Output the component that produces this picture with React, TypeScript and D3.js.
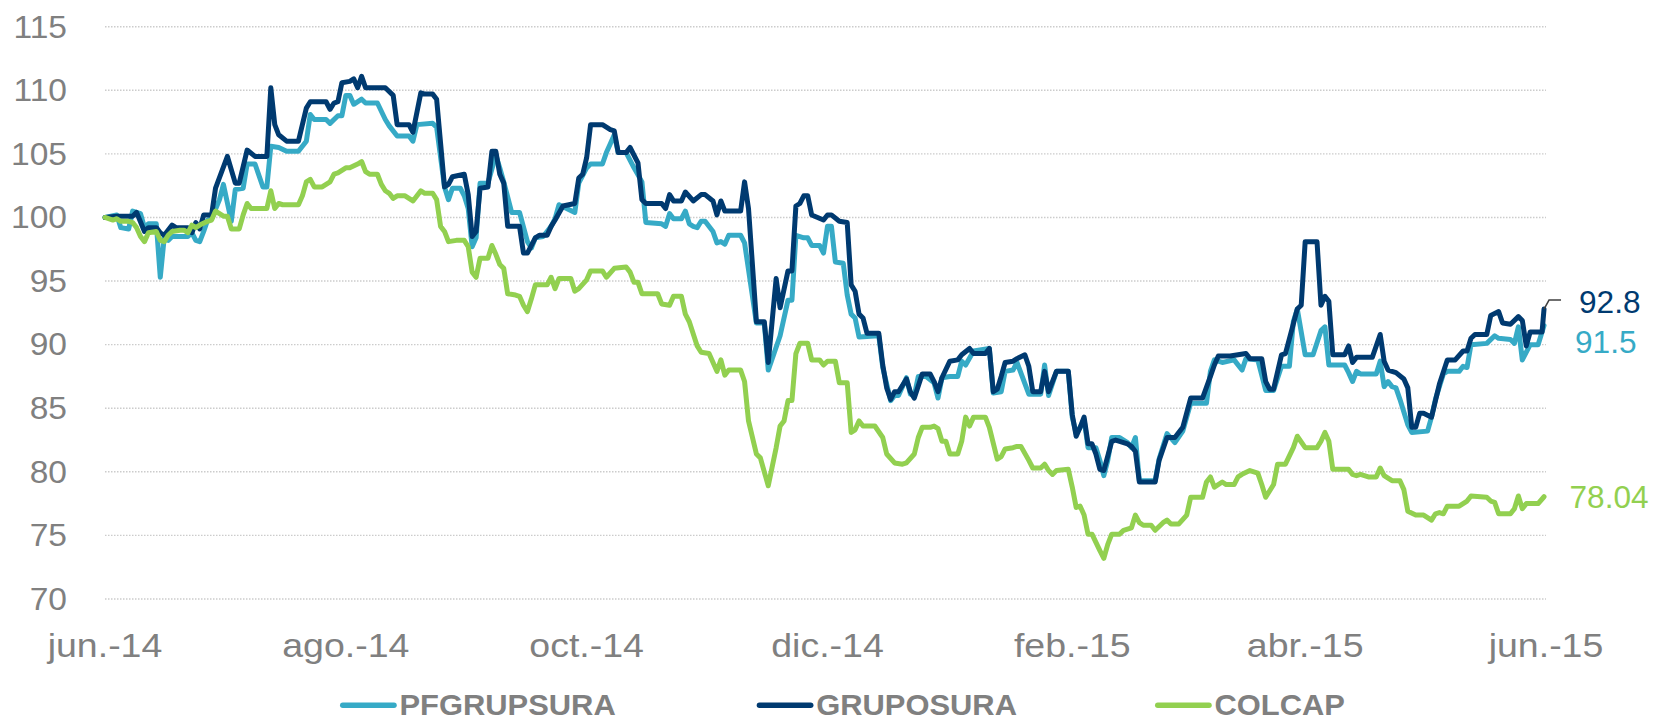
import React from "react";
import * as d3 from "d3";

// ---------- DATA ----------
// day offsets from 2014-06-01, index value (base 100)
const startDate = new Date(2014, 5, 1);

const seriesNames = ["PFGRUPSURA", "GRUPOSURA", "COLCAP"];

const pfGrupSura: [number, number][] = [
  [0,100],[3,100.2],[4,99.2],[6,99.1],[7,100.5],[9,100.3],[10,99.2],[11,99.5],[13,99.5],[14,95.3],[15,98.4],[16,98.2],[17,98.5],[21,98.5],[22,98.8],[23,98.2],[24,98.1],[25,98.9],[26,99.8],[27,99.9],[29,101.4],[30,102.6],[32,99.7],[33,102.2],[35,102.3],[36,104.2],[38,104.2],[40,102.4],[41,102.4],[42,105.6],[44,105.5],[46,105.2],[49,105.2],[51,106],[52,108.1],[53,107.7],[56,107.7],[57,107.4],[59,108],[60,108],[61,109.6],[62,109.6],[63,108.9],[65,109.3],[66,109],[69,109],[71,107.7],[72,107.2],[74,106.4],[77,106.4],[78,106],[79,107.3],[83,107.4],[84,107.1],[86,102.4],[87,101.4],[88,102.3],[90,102.3],[91,101.7],[92,100.7],[93,97.7],[94,98.4],[95,102.7],[97,102.7],[99,104.9],[100,103.9],[101,102.8],[103,100.4],[105,100.4],[107,98.1],[108,97.6],[109,98.4],[111,98.5],[113,99.3],[114,99.9],[115,101],[119,100.4],[120,102.7],[122,103.9],[123,104.2],[126,104.2],[127,105.1],[128,105.8],[129,106.5],[130,105.1],[132,105.1],[134,103.9],[136,102.8],[137,99.6],[141,99.5],[142,99.3],[143,100.3],[144,99.9],[146,99.9],[147,100.5],[148,99.5],[149,99.3],[150,99.2],[151,99.7],[152,99.7],[154,98.9],[155,98],[156,98.1],[157,97.9],[158,98.6],[161,98.6],[162,98],[165,91.7],[167,91.7],[168,88],[171,90.7],[173,93.5],[174,93.5],[175,98.6],[177,98.4],[178,98.4],[179,97.8],[181,97.8],[182,97.2],[183,99.3],[184,99.3],[185,96.5],[187,96.4],[188,93.9],[189,92.4],[190,92.1],[191,90.6],[196,90.7],[197,88.2],[199,85.6],[200,86],[201,86],[203,87.4],[204,86.1],[205,86],[206,87.5],[208,87.5],[210,87],[211,85.8],[212,87.4],[214,87.5],[216,87.5],[217,88.7],[218,88.4],[220,89.5],[224,89.7],[225,86.2],[227,86.3],[228,87.9],[230,88],[231,88.6],[234,86.1],[237,86.1],[238,88.4],[239,86],[241,87.9],[244,87.9],[245,84.3],[246,83],[247,83.5],[248,84.1],[249,81.9],[251,81.9],[252,80.9],[253,79.7],[254,80.9],[255,82.7],[257,82.7],[259,82.3],[260,81.9],[261,82.7],[262,79.3],[266,79.3],[267,81],[269,83],[271,82.3],[273,83.2],[275,85.4],[279,85.4],[280,87.9],[281,88.8],[283,88.6],[286,88.8],[288,88],[289,88.9],[292,88.8],[294,86.4],[296,86.4],[298,88.3],[300,88.3],[301,91.8],[302,92.8],[304,89.2],[306,89.2],[308,91.1],[309,91.4],[310,88.4],[314,88.4],[315,87.8],[316,87.1],[317,87.9],[318,87.7],[322,87.7],[323,88.7],[324,86.7],[325,87.1],[326,86.7],[327,86.6],[328,85.7],[330,83.7],[331,83.1],[335,83.2],[336,84.3],[337,85.7],[339,87.7],[340,87.9],[343,87.9],[344,88.3],[345,88.2],[346,90],[350,90.1],[352,90.7],[353,90.5],[356,90.4],[357,90.1],[358,91.4],[359,88.8],[361,90],[363,90],[364.5,91.5]
];

const grupoSura: [number, number][] = [
  [0,100],[3,100.1],[7,100.1],[8,100.4],[10,98.9],[11,99.2],[13,99.2],[14,98.8],[15,98.6],[17,99.4],[18,99.2],[21,99.2],[22,98.8],[23,99.6],[24,99.1],[25,100.2],[27,100.2],[28,102.3],[31,104.8],[33,102.7],[34,102.7],[36,105.3],[38,104.8],[41,104.8],[42,110.2],[43,107.3],[44,106.5],[46,106],[49,106],[51,108.6],[52,109.1],[56,109.1],[57,108.5],[58,109],[59,109.1],[60,110.6],[62,110.7],[63,110.9],[64,110.2],[65,111.1],[66,110.2],[71,110.2],[73,109.6],[74,107.3],[77,107.3],[78,106.7],[80,109.8],[81,109.7],[83,109.7],[84,109.3],[86,102.4],[87,102.6],[88,103.2],[91,103.4],[92,101.8],[93,98.5],[94,98.9],[95,102.3],[97,102.4],[98,105.2],[99,105.2],[100,103.4],[101,102.7],[102,99.3],[105,99.3],[106,97.2],[107,97.2],[109,98.4],[110,98.6],[112,98.6],[113,99.3],[114,99.8],[116,100.9],[119,101.1],[120,103.1],[121,103.4],[122,104.7],[123,107.3],[126,107.3],[128,106.9],[129,106.8],[130,105.1],[132,105.1],[133,105.5],[135,104.3],[136,101.4],[137,101.1],[141,101.1],[142,100.7],[143,101.8],[144,101.3],[146,101.3],[147,102],[149,101.3],[151,101.8],[152,101.8],[154,101.3],[155,100.2],[156,101.3],[157,100.5],[161,100.5],[162,102.8],[163,100.7],[165,91.8],[167,91.8],[168,88.6],[170,95.2],[171,92.9],[173,95.8],[174,95.8],[175,100.9],[176,101.1],[177,101.7],[178,101.7],[179,100.2],[182,99.8],[183,100.2],[184,100.2],[186,99.7],[188,99.6],[189,94.7],[190,94.2],[191,92.4],[192,92.1],[193,90.9],[196,90.9],[197,88.4],[198,86.6],[199,85.7],[200,86.3],[201,86.3],[203,87.3],[204,86.3],[205,85.8],[207,87.7],[209,87.7],[210,87.1],[211,86.3],[212,87.4],[214,88.7],[216,88.8],[217,89.2],[219,89.7],[220,89.3],[223,89.3],[224,89.7],[225,86.3],[226,86.5],[227,87.5],[228,88.6],[230,88.7],[231,88.9],[233,89.2],[234,88.3],[235,86.3],[237,86.3],[238,87.9],[239,86.3],[241,87.9],[244,87.9],[245,84.5],[246,82.8],[247,83.5],[248,84.3],[249,82.2],[250,82.2],[251,81.4],[252,80.2],[253,80.1],[255,82.4],[256,82.5],[259,82.2],[260,82],[261,81.6],[262,79.2],[266,79.2],[267,80.9],[269,82.7],[271,82.7],[273,83.5],[275,85.8],[278,85.8],[280,87.5],[281,88.4],[282,89.1],[285,89.1],[287,89.2],[289,89.3],[290,88.9],[293,88.9],[294,87.1],[295,86.5],[296,86.5],[298,89.2],[299,89.3],[302,92.8],[303,93.1],[304,98.1],[307,98.1],[308,93.1],[309,93.8],[310,93.4],[311,89.2],[314,89.2],[315,89.9],[316,88.6],[317,89],[321,89],[323,90.8],[324,88.7],[325,88],[327,87.8],[329,87.3],[330,86.6],[331,83.5],[332,83.5],[333,84.6],[334,84.6],[336,84.3],[337,85.6],[338,86.9],[340,88.8],[342,88.8],[344,89.5],[345,89.5],[346,90.5],[347,90.8],[350,90.8],[351,92.3],[353,92.6],[354,91.7],[356,91.6],[358,92.2],[359,91.9],[360,89.9],[361,91],[364,91],[364.5,92.8]
];

const colcap: [number, number][] = [
  [0,100],[2,99.8],[3,99.9],[4,99.7],[6,99.7],[7,99.6],[8,99.2],[9,98.5],[10,98.1],[11,98.8],[13,98.9],[14,98.2],[15,98.1],[16,98.6],[17,98.9],[19,99],[20,99],[21,98.8],[22,99.4],[23,99.2],[24,99.4],[26,99.7],[27,99.8],[28,100.5],[30,100.1],[31,100.1],[32,99.1],[34,99.1],[35,100.2],[36,101.1],[37,100.7],[41,100.7],[42,102.1],[43,100.7],[44,101.1],[45,101],[49,101],[50,101.7],[51,102.8],[52,103],[53,102.4],[55,102.4],[57,102.8],[58,103.4],[59,103.5],[61,103.9],[62,103.9],[64,104.2],[65,104.4],[66,103.6],[67,103.4],[69,103.4],[70,102.6],[71,102.1],[72,101.9],[73,101.5],[74,101.7],[76,101.7],[78,101.3],[80,102.1],[81,101.9],[83,101.9],[84,101.4],[85,99.3],[86,98.9],[87,98.1],[89,98.2],[91,98.2],[92,97.7],[93,95.7],[94,95.3],[95,96.8],[97,96.8],[98,97.8],[99,97.1],[100,96.3],[101,96],[102,94],[104,93.9],[105,93.8],[106,93.1],[107,92.6],[108,93.6],[109,94.7],[112,94.7],[113,95.3],[114,94.4],[115,95.2],[118,95.2],[119,94.2],[120,94.4],[122,95.1],[123,95.8],[126,95.8],[127,95.3],[129,96],[132,96.1],[133,95.7],[134,94.9],[135,94.9],[136,94],[140,94],[141,93.2],[143,93.1],[144,93.8],[146,93.8],[147,92.4],[148,91.8],[150,89.9],[151,89.4],[153,89.3],[155,87.9],[156,88.8],[157,87.6],[158,88],[161,88],[162,87.1],[163,84],[165,81.4],[166,81.1],[168,78.9],[170,81.9],[171,83.6],[172,84],[173,85.6],[174,85.6],[175,89.3],[176,90.1],[178,90.1],[179,88.8],[181,88.8],[182,88.4],[183,88.7],[185,88.7],[186,87],[188,87],[189,83.1],[190,83.3],[191,84],[192,83.6],[195,83.6],[197,82.7],[198,81.4],[200,80.7],[202,80.6],[203,80.7],[205,81.4],[206,82.7],[207,83.5],[209,83.5],[210,83.6],[211,83.4],[212,82.4],[213,82.4],[214,81.4],[216,81.4],[217,82.4],[218,84.3],[219,83.6],[220,84.3],[223,84.3],[224,83.5],[226,81],[227,81.2],[228,81.8],[230,81.9],[231,82],[232,82],[234,80.9],[235,80.3],[237,80.3],[238,80.6],[239,80.1],[240,79.8],[241,80.1],[244,80.2],[245,78.8],[246,77.2],[247,77.3],[248,76.6],[249,75.1],[250,75.1],[252,73.8],[253,73.2],[254,74.3],[255,75.1],[257,75.1],[258,75.4],[260,75.6],[261,76.6],[262,76],[263,75.8],[265,75.8],[266,75.4],[268,76],[269,76.2],[270,75.9],[272,75.9],[274,76.6],[275,78],[278,78],[279,79.2],[280,79.6],[281,78.8],[283,79.2],[284,79],[286,79],[287,79.6],[288,79.8],[290,80.1],[292,79.9],[293,79],[294,78],[296,79],[297,80.6],[299,80.6],[301,81.9],[302,82.8],[304,81.9],[307,81.9],[308,82.4],[309,83.1],[310,82.4],[311,80.2],[315,80.2],[316,79.8],[317,79.7],[318,79.8],[320,79.6],[322,79.6],[323,80.3],[324,79.7],[326,79.3],[328,79.3],[329,78.6],[330,76.9],[332,76.6],[334,76.6],[336,76.2],[337,76.7],[338,76.8],[339,76.7],[340,77.3],[343,77.3],[345,77.7],[346,78.1],[350,78],[351,77.7],[352,77.6],[353,76.7],[356,76.7],[357,77.1],[358,78.1],[359,77.1],[360,77.5],[363,77.5],[364.5,78.04]
];

const yTicks = [70, 75, 80, 85, 90, 95, 100, 105, 110, 115];
const xTickDates = ["2014-06-01", "2014-08-01", "2014-10-01", "2014-12-01", "2015-02-01", "2015-04-01", "2015-06-01"];
const xTickLabels = ["jun.-14", "ago.-14", "oct.-14", "dic.-14", "feb.-15", "abr.-15", "jun.-15"];
const endLabels = ["91.5", "92.8", "78.04"];

// ---------- STYLE ----------
const W = 1653, H = 721;
const COLORS = ["#36AAC6", "#003A70", "#92D050"];
const FONT = "Arial, 'Liberation Sans', sans-serif";
const GRAY = "#808080";

function toDate(d: number) {
  return new Date(startDate.getTime() + d * 86400000);
}

function SText(props: {
  x: number; y: number; sx: number; size: number; fill: string;
  anchor?: string; weight?: string; children: React.ReactNode;
}) {
  return (
    <text
      transform={`translate(${props.x},${props.y}) scale(${props.sx},1)`}
      textAnchor={props.anchor || "start"}
      fontSize={props.size}
      fontWeight={props.weight || "normal"}
      fill={props.fill}
    >
      {props.children}
    </text>
  );
}

export default function App() {
  const x = d3.scaleTime()
    .domain([new Date(2014, 5, 1), new Date(2015, 5, 1)])
    .range([105, 1546]);
  const y = d3.scaleLinear().domain([70, 115]).range([599, 26.7]);

  const line = d3.line<[number, number]>()
    .x((d) => x(toDate(d[0])))
    .y((d) => y(d[1]));

  const series = [pfGrupSura, grupoSura, colcap];

  const ends = series.map((s) => {
    const last = s[s.length - 1];
    return { ex: x(toDate(last[0])), ey: y(last[1]) };
  });
  const labelOffsets = [
    { dx: 31, dy: 27.5 },
    { dx: 35, dy: 3.5 },
    { dx: 25.5, dy: 11.5 },
  ];

  const legendX = [340, 756.7, 1155];

  return (
    <svg width={W} height={H} style={{ position: "absolute", left: 0, top: 0, background: "#fff" }} fontFamily={FONT}>
      <rect width={W} height={H} fill="#fff" />
      {yTicks.map((t) => (
        <g key={t}>
          <line x1={105} x2={1546} y1={y(t)} y2={y(t)} stroke="#cccccc" strokeWidth={1.4} strokeDasharray="1.5 1.5" />
          <SText x={67} y={y(t) + 10.8} sx={1.1} size={30.5} fill={GRAY} anchor="end">{t}</SText>
        </g>
      ))}
      {xTickDates.map((d, i) => (
        <SText key={d} x={x(new Date(d + "T00:00:00"))} y={657} sx={1.12} size={33.5} fill={GRAY} anchor="middle">
          {xTickLabels[i]}
        </SText>
      ))}
      {series.map((s, i) => (
        <path key={i} d={line(s) || ""} fill="none" stroke={COLORS[i]} strokeWidth={5} strokeLinejoin="round" strokeLinecap="round" />
      ))}
      <path
        d={`M${ends[1].ex},${ends[1].ey} L${ends[1].ex + 5},${ends[1].ey - 9} L${ends[1].ex + 17},${ends[1].ey - 9}`}
        fill="none" stroke="#404040" strokeWidth={1.5}
      />
      {endLabels.map((l, i) => (
        <SText key={l} x={ends[i].ex + labelOffsets[i].dx} y={ends[i].ey + labelOffsets[i].dy} sx={1.03} size={30.7} fill={COLORS[i]}>
          {l}
        </SText>
      ))}
      {seriesNames.map((n, i) => (
        <g key={n}>
          <line x1={legendX[i] + 2.75} x2={legendX[i] + 54} y1={705.2} y2={705.2} stroke={COLORS[i]} strokeWidth={5.5} strokeLinecap="round" />
          <SText x={legendX[i] + 59.5} y={714.5} sx={1.03} size={30} weight="bold" fill={GRAY}>{n}</SText>
        </g>
      ))}
    </svg>
  );
}
